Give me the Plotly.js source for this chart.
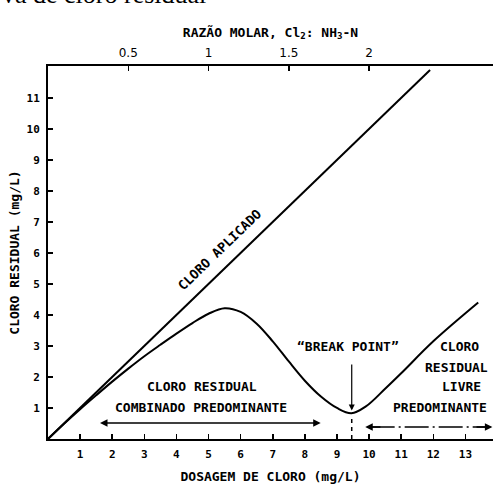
<!DOCTYPE html>
<html>
<head>
<meta charset="utf-8">
<script src="https://cdn.plot.ly/plotly-3.0.1.min.js"></script>
<style>html,body{margin:0;padding:0;background:#fff;}#chart{width:493px;height:485px;}</style>
</head>
<body>
<div id="chart"></div>
<script>
// Data
const appliedDose = [0, 11.9];
const appliedCl = [0, 11.9];
const residualDose = [0, 0.5, 1, 1.5, 2, 2.5, 3, 3.5, 4, 4.5, 5, 5.5, 6, 6.5, 7, 7.5, 8, 8.5, 9, 9.45, 9.9, 10.5, 11, 12, 13.4];
const residualCl = [0, 0.49, 0.96, 1.41, 1.85, 2.27, 2.67, 3.04, 3.4, 3.74, 4.04, 4.22, 4.1, 3.72, 3.15, 2.5, 1.88, 1.37, 1.0, 0.83, 1.05, 1.62, 2.12, 3.15, 4.4];
const breakPointDose = 9.46;
const bottomTicks = [1,2,3,4,5,6,7,8,9,10,11,12,13];
const leftTicks = [1,2,3,4,5,6,7,8,9,10,11];
const topTicks = [0.5, 1, 1.5, 2];
const topTickText = ['0.5', '1', '1.5', '2'];

const LBL = {family: 'DejaVu Sans Mono', size: 13, color: '#000', weight: 'bold'};
const TCK = {family: 'DejaVu Sans Mono', size: 11, color: '#000', weight: 'bold'};

const xMax = 13.86;
const traces = [
  {x: appliedDose, y: appliedCl, mode: 'lines', line: {color: '#000', width: 2}, showlegend: false, hoverinfo: 'skip'},
  {x: residualDose, y: residualCl, mode: 'lines', line: {color: '#000', width: 2, shape: 'spline', smoothing: 1}, showlegend: false, hoverinfo: 'skip'},
  {x: [breakPointDose, breakPointDose], y: [0, 0.74], mode: 'lines', line: {color: '#000', width: 1.5, dash: '4px,4px'}, showlegend: false, hoverinfo: 'skip'},
  {x: [10.05, 13.7], y: [0.39, 0.39], mode: 'lines', line: {color: '#000', width: 1.5, dash: '24px,4px,2px,4px'}, showlegend: false, hoverinfo: 'skip'},
  {x: [0, 1], y: [0, 1], xaxis: 'x2', yaxis: 'y', mode: 'lines', line: {width: 0}, opacity: 0, showlegend: false, hoverinfo: 'skip'}
];

function ann(text, x, y, extra) {
  return Object.assign({text: text, x: x, y: y, xref: 'x', yref: 'y', showarrow: false, font: LBL}, extra || {});
}
function arrow(x, y, ax, ay, w) {
  return {x: x, y: y, ax: ax, ay: ay, xref: 'x', yref: 'y', axref: 'x', ayref: 'y', text: '', showarrow: true,
          arrowhead: 2, arrowsize: 1, arrowwidth: w || 1.5, arrowcolor: '#000'};
}

const annotations = [
  ann('CLORO APLICADO', 5.36, 6.1, {textangle: -44}),
  ann('CLORO RESIDUAL', 4.8, 1.68),
  ann('COMBINADO PREDOMINANTE', 4.77, 1.03),
  ann('\u201CBREAK POINT\u201D', 9.35, 2.97),
  ann('CLORO', 12.83, 2.97),
  ann('RESIDUAL', 12.71, 2.32),
  ann('LIVRE', 12.87, 1.68),
  ann('PREDOMINANTE', 12.21, 1.03),
  Object.assign(arrow(1.62, 0.52, 8.54, 0.52), {arrowside: 'end+start'}),
  arrow(breakPointDose, 0.92, breakPointDose, 2.45, 1.2),
  arrow(9.88, 0.39, 10.4, 0.39),
  arrow(13.84, 0.39, 13.3, 0.39),
  {text: 'va de cloro residual', xref: 'paper', yref: 'paper', x: -0.108, y: 1.1485, xanchor: 'left', yanchor: 'bottom',
   showarrow: false, font: {family: 'Liberation Serif', size: 26, color: '#000'}}
];

const layout = {
  width: 493, height: 485,
  margin: {l: 48, r: 0, t: 66, b: 46},
  paper_bgcolor: '#fff', plot_bgcolor: '#fff',
  font: {family: 'DejaVu Sans Mono', color: '#000'},
  xaxis: {range: [0, xMax], tickvals: bottomTicks, ticks: 'inside', ticklen: 5, tickwidth: 1.5, tickcolor: '#000',
          showline: true, linewidth: 2, linecolor: '#000', showgrid: false, zeroline: false, tickfont: TCK,
          ticklabelstandoff: 4,
          title: {text: 'DOSAGEM DE CLORO (mg/L)', font: LBL, standoff: 12}},
  xaxis2: {overlaying: 'x', side: 'top', anchor: 'y', range: [0, xMax / 5], tickvals: topTicks, ticktext: topTickText,
           ticks: 'inside', ticklen: 5, tickwidth: 1.5, tickcolor: '#000', showline: true, linewidth: 2, linecolor: '#000',
           showgrid: false, zeroline: false, tickfont: {family: 'DejaVu Sans', size: 12, color: '#000'},
           ticklabelstandoff: 2,
           title: {text: 'RAZÃO MOLAR, Cl<sub>2</sub>: NH<sub>3</sub>-N', font: LBL, standoff: 6}},
  yaxis: {range: [0, 12.03], tickvals: leftTicks, ticks: 'inside', ticklen: 5, tickwidth: 1.5, tickcolor: '#000',
          showline: true, linewidth: 2, linecolor: '#000', showgrid: false, zeroline: false, tickfont: TCK,
          ticklabelstandoff: 4,
          title: {text: 'CLORO RESIDUAL (mg/L)', font: LBL, standoff: 4}},
  annotations: annotations
};

Plotly.newPlot('chart', traces, layout, {staticPlot: true, displayModeBar: false});
</script>
</body>
</html>
